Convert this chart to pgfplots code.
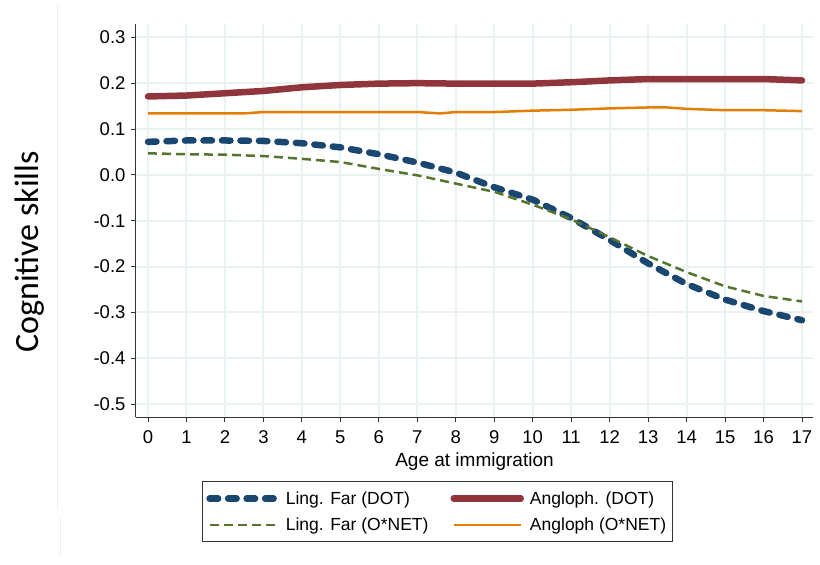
\documentclass[border=0pt]{standalone}
\usepackage{pgfplots}
\pgfplotsset{compat=1.18}
\usepackage{fontspec}
\setmainfont{Liberation Sans}
\newfontfamily\calibri{Carlito}
\usetikzlibrary{calc}

\definecolor{sNavy}{RGB}{26,71,111}
\definecolor{sMaroon}{RGB}{144,53,59}
\definecolor{sGreen}{RGB}{85,117,47}
\definecolor{sOrange}{RGB}{227,126,0}
\definecolor{sGrid}{RGB}{234,241,243}

\begin{document}
\begin{tikzpicture}
\begin{axis}[
  name=ax,
  scale only axis,
  width=677pt, height=393pt,
  xmin=-0.312, xmax=17.286,
  ymin=-0.528, ymax=0.329,
  axis x line*=bottom, axis y line*=left,
  axis line style={black!80, line width=1pt},
  xtick={0,1,...,17},
  ytick={-0.5,-0.4,-0.3,-0.2,-0.1,0,0.1,0.2,0.3},
  yticklabels={-0.5,-0.4,-0.3,-0.2,-0.1,0.0,0.1,0.2,0.3},
  tick align=outside,
  major tick length=5pt,
  tick style={black!80, line width=1pt},
  grid=major,
  grid style={sGrid, line width=2pt},
  /pgf/number format/assume math mode=true,
  tick label style={font=\fontsize{18.5}{21}\selectfont},
  xticklabel style={yshift=-5pt},
  yticklabel style={xshift=-2pt},
  xlabel={Age at immigration},
  xlabel style={font=\fontsize{19}{22}\selectfont, at={(axis description cs:0.5,0)}, yshift=-32pt, anchor=north},
  ylabel={\calibri Cognitive skills},
  ylabel style={font=\fontsize{34}{40}\selectfont, at={(axis description cs:-0.157,0.42)}, anchor=center},
  legend style={
    at={(axis description cs:0.445,-0.163)}, anchor=north,
    draw=black!80, line width=1pt,
    font=\fontsize{17.5}{20}\selectfont,
    legend columns=2,
    inner xsep=4pt, inner ysep=8pt,
    /tikz/every odd column/.append style={column sep=4pt},
    /tikz/every even column/.append style={column sep=20pt},
    row sep=8pt,
  },
  legend cell align=left,
  legend image code/.code={\draw[#1] (0pt,0pt) -- (67pt,0pt);},
]
\addplot[sNavy, line width=6.5pt, line cap=round, dash pattern=on 8.5pt off 10pt] coordinates {
(0,0.072) (1,0.075) (2,0.075) (3,0.074) (4,0.069) (5,0.060) (6,0.045) (7,0.027) (8,0.005)
(9,-0.027) (10,-0.054) (11,-0.094) (12,-0.142) (13,-0.193) (14,-0.238) (15,-0.272) (16,-0.297) (17,-0.317)
};
\addlegendentry{Ling. Far (DOT)}
\addplot[sMaroon, line width=6.5pt, line cap=round] coordinates {
(0,0.171) (1,0.173) (2,0.178) (3,0.183) (4,0.191) (5,0.196) (6,0.199) (7,0.200) (8,0.199)
(9,0.199) (10,0.199) (11,0.202) (12,0.206) (13,0.209) (14,0.209) (15,0.209) (16,0.209) (17,0.206)
};
\addlegendentry{Angloph. (DOT)}
\addplot[sGreen, line width=2.5pt, dash pattern=on 9pt off 5pt] coordinates {
(0,0.047) (1,0.045) (2,0.044) (3,0.041) (4,0.035) (5,0.028) (6,0.013) (7,-0.001) (8,-0.019)
(9,-0.037) (10,-0.065) (11,-0.097) (12,-0.136) (13,-0.177) (14,-0.212) (15,-0.243) (16,-0.264) (17,-0.276)
};
\addlegendentry{Ling. Far (O*NET)}
\addplot[sOrange, line width=2.5pt] coordinates {
(0,0.134) (1,0.134) (2,0.134) (2.5,0.134) (3,0.137) (4,0.137) (5,0.137) (6,0.137) (7,0.137)
(7.6,0.134) (8,0.137) (9,0.137) (10,0.140) (11,0.142) (12,0.145) (13,0.147) (13.5,0.147)
(14,0.144) (15,0.141) (16,0.141) (17,0.139)
};
\addlegendentry{Angloph (O*NET)}
\end{axis}
\draw[sGrid, line width=1pt] ($(ax.north west)+(-78pt,19pt)$) -- ($(ax.south west)+(-78pt,-93pt)$);
\draw[sGrid, line width=1pt] ($(ax.south west)+(-75pt,-101pt)$) -- ($(ax.south west)+(-75pt,-138pt)$);
\path ($(ax.south west)+(-136pt,-148pt)$) rectangle ($(ax.north east)+(7pt,24pt)$);
\end{tikzpicture}
\end{document}
